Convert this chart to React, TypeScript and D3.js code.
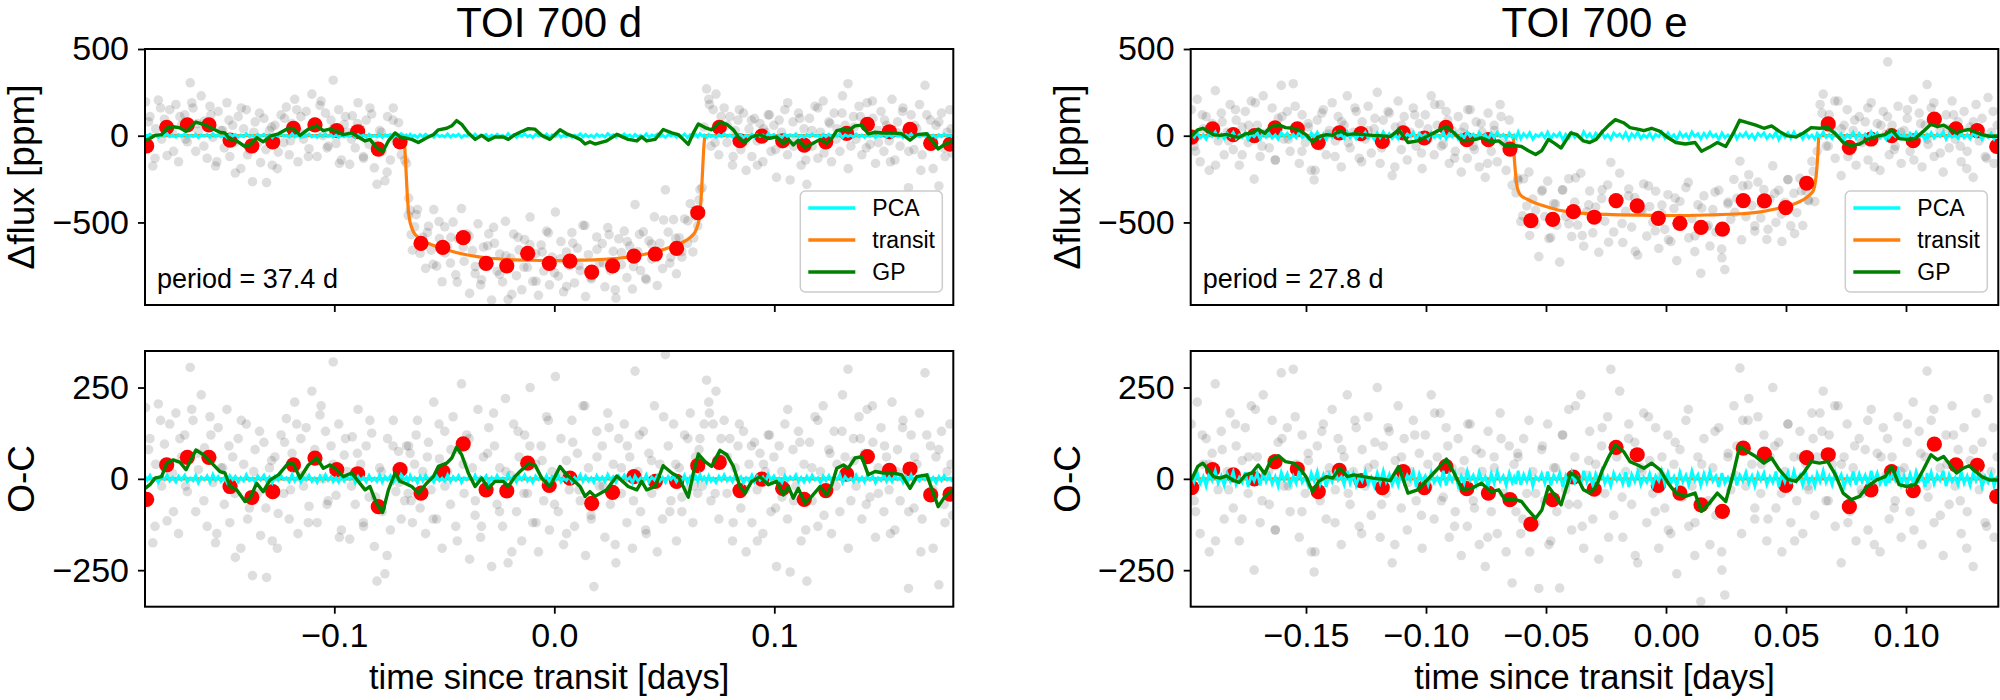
// @ts-nocheck
import { useRef, useEffect } from "react";
import * as d3 from "d3";

// ---------------- TOI 700 d ----------------
const dTime = [
  -0.1858,-0.1850,-0.1838,-0.1825,-0.1812,-0.1800,-0.1785,-0.1772,-0.1760,-0.1748,
  -0.1735,-0.1720,-0.1708,-0.1695,-0.1680,-0.1668,-0.1655,-0.1642,-0.1630,-0.1618,
  -0.1605,-0.1590,-0.1578,-0.1565,-0.1552,-0.1540,-0.1528,-0.1515,-0.1500,-0.1488,
  -0.1475,-0.1462,-0.1450,-0.1437,-0.1425,-0.1412,-0.1400,-0.1386,-0.1372,-0.1360,
  -0.1348,-0.1335,-0.1320,-0.1308,-0.1295,-0.1282,-0.1270,-0.1255,-0.1242,-0.1230,
  -0.1218,-0.1205,-0.1192,-0.1180,-0.1165,-0.1152,-0.1140,-0.1128,-0.1115,-0.1102,
  -0.1090,-0.1078,-0.1065,-0.1052,-0.1040,-0.1028,-0.1015,-0.1005,-0.0992,-0.0980,
  -0.0968,-0.0955,-0.0942,-0.0930,-0.0918,-0.0905,-0.0892,-0.0880,-0.0868,-0.0855,
  -0.0842,-0.0830,-0.0818,-0.0806,-0.0794,-0.0782,-0.0770,-0.0758,-0.0745,-0.0732,
  -0.0720,-0.0708,-0.0696,-0.0680,-0.0672,-0.0664,-0.0655,-0.0645,-0.0635,-0.0622,
  -0.0610,-0.0598,-0.0585,-0.0572,-0.0560,-0.0548,-0.0535,-0.0522,-0.0510,-0.0498,
  -0.0485,-0.0472,-0.0460,-0.0448,-0.0435,-0.0422,-0.0410,-0.0398,-0.0385,-0.0372,
  -0.0360,-0.0347,-0.0335,-0.0322,-0.0310,-0.0298,-0.0285,-0.0272,-0.0260,-0.0248,
  -0.0235,-0.0222,-0.0210,-0.0198,-0.0185,-0.0172,-0.0160,-0.0148,-0.0135,-0.0122,
  -0.0110,-0.0098,-0.0085,-0.0072,-0.0060,-0.0048,-0.0035,-0.0022,-0.0010,0.0005,
  0.0018,0.0030,0.0042,0.0055,0.0068,0.0080,0.0092,0.0105,0.0118,0.0130,
  0.0142,0.0155,0.0168,0.0180,0.0193,0.0205,0.0218,0.0230,0.0243,0.0255,
  0.0268,0.0280,0.0293,0.0305,0.0318,0.0330,0.0343,0.0355,0.0367,0.0380,
  0.0392,0.0405,0.0418,0.0430,0.0443,0.0455,0.0468,0.0480,0.0492,0.0505,
  0.0518,0.0530,0.0542,0.0555,0.0568,0.0580,0.0592,0.0605,0.0618,0.0630,
  0.0642,0.0652,0.0662,0.0672,0.0681,0.0692,0.0702,0.0712,0.0722,0.0735,
  0.0748,0.0760,0.0772,0.0785,0.0798,0.0810,0.0822,0.0835,0.0848,0.0860,
  0.0872,0.0885,0.0898,0.0910,0.0922,0.0935,0.0948,0.0960,0.0972,0.0985,
  0.0998,0.1010,0.1022,0.1035,0.1048,0.1060,0.1072,0.1085,0.1098,0.1110,
  0.1122,0.1135,0.1148,0.1160,0.1172,0.1185,0.1198,0.1210,0.1222,0.1235,
  0.1248,0.1260,0.1272,0.1285,0.1298,0.1310,0.1322,0.1335,0.1348,0.1360,
  0.1372,0.1385,0.1398,0.1410,0.1422,0.1435,0.1448,0.1460,0.1472,0.1485,
  0.1498,0.1510,0.1522,0.1535,0.1548,0.1560,0.1572,0.1585,0.1598,0.1610,
  0.1622,0.1635,0.1648,0.1660,0.1672,0.1685,0.1698,0.1710,0.1722,0.1735,
  0.1748,0.1760,0.1772,0.1785,0.1798,0.1810,
];
const dFlux = [
  195,-60,110,-175,40,205,-20,95,-115,150,
  15,180,-150,60,120,-35,305,160,-90,25,
  230,85,-130,170,-10,-175,140,30,-70,190,
  -120,60,-215,110,-190,40,150,-80,-265,80,
  -40,-155,100,-270,30,-170,60,-95,120,-40,
  165,-110,70,210,-150,110,-20,140,-75,240,
  50,-120,175,0,130,-60,90,320,-45,150,
  -140,65,20,-165,115,-70,190,40,-120,90,
  -50,125,-185,-280,30,-90,-260,110,-140,160,
  -35,75,-110,-140,-160,-460,-430,-660,-525,-425,
  -678,-585,-765,-522,-660,-426,-752,-593,-842,-525,
  -640,-734,-498,-802,-596,-420,-724,-566,-909,-662,
  -795,-508,-860,-642,-725,-566,-948,-620,-781,-682,
  -843,-494,-945,-706,-567,-807,-658,-888,-599,-759,
  -469,-840,-680,-920,-630,-780,-550,-860,-700,-440,
  -810,-610,-900,-670,-749,-559,-849,-648,-778,-517,
  -927,-686,-826,-1010,-584,-733,-622,-871,-530,-778,
  -667,-936,-594,-743,-550,-818,-636,-884,-397,-669,
  -777,-554,-830,-606,-712,-468,-864,-620,-766,-312,
  -556,-700,-484,-796,-588,-700,-480,-620,-392,-670,
  -465,-520,-310,-300,50,270,210,-60,150,240,
  -110,60,160,-40,110,-170,30,90,-80,130,
  -200,40,-120,100,-30,70,-150,20,120,-90,
  60,-240,90,-50,150,-110,-255,80,-20,130,
  -170,40,-280,100,-60,170,-130,20,200,-40,
  80,-150,130,40,-90,230,60,300,-60,110,
  -20,170,-110,70,190,-50,100,-160,30,140,
  -90,60,-30,210,-140,80,-60,160,20,-300,
  120,-80,40,180,-110,290,-40,90,-190,60,
  -290,130,-70,20,150,-100,
];
const dResid = [
  195,-60,110,-175,40,205,-20,95,-115,150,
  15,180,-150,60,120,-35,305,160,-90,25,
  230,85,-130,170,-10,-175,140,30,-70,190,
  -120,60,-215,110,-190,40,150,-80,-265,80,
  -40,-155,100,-270,30,-170,60,-95,120,-40,
  165,-110,70,210,-150,110,-20,140,-75,240,
  50,-120,175,0,130,-60,90,320,-45,150,
  -140,65,20,-165,115,-70,190,40,-120,90,
  -50,125,-185,-280,30,-90,-260,110,-140,160,
  -35,75,-110,-60,90,-40,70,-120,40,160,
  -80,20,-150,100,-30,210,-110,55,-190,130,
  20,-70,170,-130,80,260,-40,120,-220,30,
  -100,190,-160,60,-20,140,-240,90,-70,30,
  -130,220,-230,10,150,-90,60,-170,120,-40,
  250,-120,40,-200,90,-60,170,-140,20,280,
  -90,110,-180,50,-30,160,-130,70,-60,200,
  -210,30,-110,-295,130,-20,90,-160,180,-70,
  40,-230,110,-40,150,-120,60,-190,295,20,
  -90,130,-150,70,-40,200,-200,40,-110,340,
  90,-60,150,-170,30,-90,120,-30,180,-120,
  60,-40,110,-20,150,270,210,-60,150,240,
  -110,60,160,-40,110,-170,30,90,-80,130,
  -200,40,-120,100,-30,70,-150,20,120,-90,
  60,-240,90,-50,150,-110,-255,80,-20,130,
  -170,40,-280,100,-60,170,-130,20,200,-40,
  80,-150,130,40,-90,230,60,300,-60,110,
  -20,170,-110,70,190,-50,100,-160,30,140,
  -90,60,-30,210,-140,80,-60,160,20,-300,
  120,-80,40,180,-110,290,-40,90,-190,60,
  -290,130,-70,20,150,-100,
];
const dPca = [
  6,-4,9,-7,3,-10,8,-2,11,-6,4,-9,7,-3,10,-8,2,-5,9,-11,
  5,-3,8,-9,12,-4,6,-7,3,-10,9,-2,7,-8,4,-6,11,-5,2,-9,
  8,-3,10,-7,5,-11,6,-4,9,-2,3,-8,12,-6,7,-9,4,-3,10,-7,
  2,-10,8,-5,11,-4,6,-8,3,-9,9,-6,5,-2,10,-11,7,-3,4,-8,
  9,-5,2,-7,11,-9,6,-3,8,-10,4,-6,12,-2,5,-8,9,-4,3,-11,
  7,-6,10,-3,4,-9,8,-5,2,-7,11,-8,6,-4,9,-10,3,-2,7,-6,
  10,-9,5,-3,8,-11,4,-7,9,-5,2,-8,12,-4,6,-9,7,-3,11,-6,
  3,-10,8,-2,5,-7,9,-11,6,-4,10,-8,2,-5,7,-9,4,-3,11,-7,
  8,-6,3,-10,9,-4,5,-8,12,-2,6,-9,7,-5,10,-3,4,-11,8,-6,
  2,-7,11,-9,5,-3,9,-6,4,-10,7,-2,8,-8,3,-5,10,-11,6,-4,
  9,-7,12,-3,5,-9,8,-6,2,-10,7,-4,11,-5,4,-8,9,-2,6,-11,
  3,-6,10,-8,7,-4,5,-9,12,-3,8,-7,2,-10,9,-5,6,-2,11,-8,
  4,-9,7,-6,10,-3,3,-11,8,-5,9,-7,5,-2,11,-10,6,-4,2,-8,
  10,-6,4,-9,8,-3,7,-11,3,-5,12,-7,6,-8,9,-2,5,-10,7,-4,
  11,-9,3,-6,8,-2,10,-7,4,-11,6,-5,9,-3,2,-8,
];
// second sector of raw points (no PCA drawn for these)
const dTime2 = [
  -0.1844,-0.1815,-0.1790,-0.1762,-0.1731,-0.1702,-0.1676,-0.1648,-0.1622,-0.1593,
  -0.1561,-0.1534,-0.1507,-0.1479,-0.1452,-0.1423,-0.1394,-0.1366,-0.1340,-0.1311,
  -0.1285,-0.1259,-0.1226,-0.1199,-0.1171,-0.1144,-0.1118,-0.1089,-0.1060,-0.1033,
  -0.1006,-0.0977,-0.0949,-0.0922,-0.0895,-0.0867,-0.0838,-0.0812,-0.0786,-0.0760,
  -0.0733,-0.0706,
  -0.0662,-0.0651,-0.0628,-0.0603,-0.0577,-0.0551,-0.0524,-0.0497,-0.0470,-0.0441,
  -0.0414,-0.0387,-0.0359,-0.0331,-0.0303,-0.0276,-0.0249,-0.0220,-0.0193,-0.0165,
  -0.0138,-0.0111,-0.0083,-0.0055,-0.0027,0.0001,0.0028,0.0056,0.0084,0.0112,
  0.0139,0.0167,0.0194,0.0222,0.0249,0.0277,0.0305,0.0332,0.0360,0.0387,
  0.0415,0.0442,0.0470,0.0497,0.0525,0.0552,0.0580,0.0607,0.0634,0.0658,
  0.0705,0.0731,0.0758,0.0786,0.0813,0.0841,0.0868,0.0896,0.0923,0.0951,
  0.0978,0.1006,0.1033,0.1061,0.1088,0.1116,0.1143,0.1171,0.1198,0.1226,
  0.1253,0.1281,0.1308,0.1336,0.1363,0.1391,0.1418,0.1446,0.1473,0.1501,
  0.1528,0.1556,0.1583,0.1611,0.1638,0.1666,0.1693,0.1721,0.1748,0.1776,
  0.1803,
];
const dFlux2 = [
  80,-130,160,40,-90,110,-20,190,70,-60,
  120,-150,30,90,-40,160,-110,20,130,-80,
  50,-190,100,-30,150,10,-120,80,200,-70,
  40,-160,110,-20,70,-130,160,-50,20,-210,
  90,-10,
  -360,-570,-455,-631,-558,-742,-495,-676,-586,-844,
  -642,-579,-755,-830,-634,-528,-800,-693,-915,-586,
  -758,-628,-839,-670,-560,-790,-710,-869,-619,-748,
  -518,-816,-655,-733,-570,-888,-674,-610,-755,-569,
  -822,-624,-676,-486,-735,-592,-668,-491,-590,-370,
  180,-40,110,60,-120,150,-30,90,-170,40,
  120,-80,20,190,-60,100,-140,30,160,-100,
  70,-20,130,-190,50,110,-70,200,-40,90,
  -150,20,140,-90,60,-200,120,-30,80,-120,
  40,
];
const dResid2 = [
  80,-130,160,40,-90,110,-20,190,70,-60,
  120,-150,30,90,-40,160,-110,20,130,-80,
  50,-190,100,-30,150,10,-120,80,200,-70,
  40,-160,110,-20,70,-130,160,-50,20,-210,
  90,-10,
  90,-60,120,-30,60,-110,150,-20,80,-170,
  40,110,-60,-130,70,180,-90,20,-200,130,
  -40,90,-120,50,160,-70,10,-150,100,-30,
  200,-100,60,-20,140,-180,30,90,-60,120,
  -140,50,-10,170,-90,40,-50,110,-20,80,
  180,-40,110,60,-120,150,-30,90,-170,40,
  120,-80,20,190,-60,100,-140,30,160,-100,
  70,-20,130,-190,50,110,-70,200,-40,90,
  -150,20,140,-90,60,-200,120,-30,80,-120,
  40,
];
const dBinTime = [
  -0.1853,-0.1762,-0.1668,-0.1570,-0.1474,-0.1375,-0.1280,-0.1186,-0.1088,-0.0989,
  -0.0894,-0.0800,-0.0701,-0.0606,-0.0507,-0.0414,-0.0310,-0.0216,-0.0121,-0.0023,
  0.0071,0.0170,0.0265,0.0362,0.0459,0.0556,0.0652,0.0750,0.0844,0.0943,
  0.1038,0.1136,0.1234,0.1329,0.1423,0.1523,0.1617,0.1711,0.1799,
];
const dBinFlux = [
  -59,48,62,62,-25,-59,-35,43,62,29,
  23,-77,-35,-621,-644,-588,-736,-750,-678,-736,
  -723,-786,-750,-694,-682,-650,-444,48,-29,-2,
  -29,-54,-35,14,66,23,37,-44,-48,
];
const dBinResid = [
  -56,38,59,59,-21,-51,-35,38,57,25,
  14,-76,25,-39,20,96,-30,-33,43,-18,
  2,-67,-37,6,-7,-7,36,45,-32,-1,
  -26,-56,-32,13,61,23,27,-44,-42,
];
const dTransitTime = [
  -0.1861,-0.0686,-0.0680,-0.0676,-0.0670,-0.0664,-0.0657,-0.0648,-0.0640,-0.0620,
  -0.0600,-0.0550,-0.0500,-0.0450,-0.0400,-0.0350,-0.0300,-0.0200,-0.0100,0.0000,
  0.0100,0.0200,0.0300,0.0350,0.0400,0.0450,0.0500,0.0550,0.0600,0.0620,
  0.0640,0.0648,0.0657,0.0664,0.0670,0.0676,0.0680,0.0686,0.1814,
];
const dTransit = [
  0,0,-60,-150,-300,-420,-490,-530,-555,-585,
  -603,-632,-655,-672,-686,-697,-705,-714,-718,-720,
  -718,-714,-705,-697,-686,-672,-655,-632,-603,-585,
  -555,-530,-490,-420,-300,-150,-60,0,0,
];
const dGpTime = [
  -0.1860,-0.1838,-0.1815,-0.1785,-0.1762,-0.1732,-0.1701,-0.1674,-0.1629,-0.1595,
  -0.1557,-0.1520,-0.1497,-0.1474,-0.1444,-0.1406,-0.1383,-0.1353,-0.1323,-0.1292,
  -0.1254,-0.1209,-0.1186,-0.1156,-0.1118,-0.1080,-0.1050,-0.1020,-0.0989,-0.0959,
  -0.0921,-0.0891,-0.0860,-0.0838,-0.0808,-0.0780,-0.0754,-0.0724,-0.0701,-0.0679,
  -0.0648,-0.0618,-0.0580,-0.0550,-0.0527,-0.0489,-0.0466,-0.0444,-0.0421,-0.0391,
  -0.0360,-0.0330,-0.0300,-0.0270,-0.0232,-0.0209,-0.0179,-0.0156,-0.0118,-0.0088,
  -0.0057,-0.0020,0.0026,0.0056,0.0086,0.0117,0.0140,0.0162,0.0185,0.0238,
  0.0284,0.0336,0.0375,0.0397,0.0420,0.0458,0.0495,0.0534,0.0564,0.0586,
  0.0609,0.0632,0.0655,0.0685,0.0715,0.0753,0.0784,0.0814,0.0844,0.0867,
  0.0897,0.0935,0.0973,0.1011,0.1041,0.1064,0.1086,0.1109,0.1140,0.1170,
  0.1208,0.1238,0.1261,0.1284,0.1314,0.1336,0.1367,0.1397,0.1427,0.1458,
  0.1495,0.1541,0.1579,0.1617,0.1647,0.1693,0.1745,0.1776,0.1814,
];
const dGp = [
  -26,-16,2,6,43,52,45,25,79,66,
  43,20,16,-21,-30,-62,-53,-12,-35,-3,
  11,43,41,2,38,57,29,38,25,6,
  16,-7,-30,-21,-67,-92,-30,16,-7,-12,
  -21,-39,-12,6,34,43,57,87,66,16,
  -21,2,-26,-7,-7,-21,6,20,41,38,
  2,-21,34,11,-3,-21,-48,-35,-48,-30,
  8,-21,-30,-7,-30,-21,36,16,6,-21,
  -50,16,68,47,34,78,66,34,-21,-39,
  -7,6,-16,-7,-44,-21,-53,-26,-67,-48,
  -21,-44,-16,29,38,29,57,61,11,20,
  16,16,11,-26,6,11,-76,-48,-30,
];

// ---------------- TOI 700 e ----------------
const eTime = [
  -0.1978,-0.1966,-0.1953,-0.1941,-0.1928,-0.1916,-0.1903,-0.1891,-0.1878,-0.1866,
  -0.1853,-0.1841,-0.1828,-0.1816,-0.1803,-0.1791,-0.1778,-0.1766,-0.1753,-0.1741,
  -0.1728,-0.1716,-0.1703,-0.1691,-0.1678,-0.1666,-0.1653,-0.1641,-0.1628,-0.1616,
  -0.1603,-0.1591,-0.1578,-0.1566,-0.1553,-0.1541,-0.1528,-0.1516,-0.1503,-0.1491,
  -0.1478,-0.1466,-0.1453,-0.1441,-0.1428,-0.1416,-0.1403,-0.1391,-0.1378,-0.1366,
  -0.1353,-0.1341,-0.1328,-0.1316,-0.1303,-0.1291,-0.1278,-0.1266,-0.1253,-0.1241,
  -0.1228,-0.1216,-0.1203,-0.1191,-0.1178,-0.1166,-0.1153,-0.1141,-0.1128,-0.1116,
  -0.1103,-0.1091,-0.1078,-0.1066,-0.1053,-0.1041,-0.1028,-0.1016,-0.1003,-0.0991,
  -0.0978,-0.0966,-0.0953,-0.0941,-0.0928,-0.0916,-0.0903,-0.0891,-0.0878,-0.0866,
  -0.0853,-0.0841,-0.0828,-0.0816,-0.0803,-0.0791,-0.0778,-0.0766,-0.0753,-0.0741,
  -0.0728,-0.0716,-0.0703,-0.0691,-0.0678,-0.0666,-0.0653,-0.0641,-0.0633,-0.0625,
  -0.0616,-0.0605,-0.0593,-0.0580,-0.0568,-0.0555,-0.0543,-0.0530,-0.0518,-0.0505,
  -0.0493,-0.0480,-0.0468,-0.0455,-0.0443,-0.0430,-0.0418,-0.0405,-0.0393,-0.0380,
  -0.0368,-0.0355,-0.0343,-0.0330,-0.0318,-0.0305,-0.0293,-0.0280,-0.0268,-0.0255,
  -0.0243,-0.0230,-0.0218,-0.0205,-0.0193,-0.0180,-0.0168,-0.0155,-0.0143,-0.0130,
  -0.0118,-0.0105,-0.0093,-0.0080,-0.0068,-0.0055,-0.0043,-0.0030,-0.0018,-0.0005,
  0.0008,0.0020,0.0033,0.0045,0.0058,0.0070,0.0083,0.0095,0.0108,0.0120,
  0.0133,0.0145,0.0158,0.0170,0.0183,0.0195,0.0208,0.0220,0.0233,0.0245,
  0.0258,0.0270,0.0283,0.0295,0.0308,0.0320,0.0333,0.0345,0.0358,0.0370,
  0.0383,0.0395,0.0408,0.0420,0.0433,0.0445,0.0458,0.0470,0.0483,0.0495,
  0.0508,0.0520,0.0533,0.0545,0.0558,0.0570,0.0583,0.0595,0.0608,0.0620,
  0.0630,0.0642,0.0655,0.0667,0.0680,0.0692,0.0705,0.0717,0.0730,0.0742,
  0.0755,0.0767,0.0780,0.0792,0.0805,0.0817,0.0830,0.0842,0.0855,0.0867,
  0.0880,0.0892,0.0905,0.0917,0.0924,0.0930,0.0942,0.0955,0.0967,0.0980,
  0.0992,0.1005,0.1017,0.1030,0.1042,0.1055,0.1067,0.1080,0.1088,0.1092,
  0.1105,0.1117,0.1130,0.1142,0.1155,0.1167,0.1180,0.1192,0.1205,0.1217,
  0.1230,0.1242,0.1255,0.1267,0.1280,0.1292,0.1305,0.1317,0.1330,0.1342,
  0.1355,0.1367,0.1380,
];
const eFlux = [
  150,-60,210,-150,40,110,-200,70,260,-30,
  130,-110,20,180,-80,90,-170,50,140,-40,
  200,-250,60,-120,230,10,-70,160,-140,100,
  290,-20,140,-90,300,40,-160,120,-40,70,
  -200,-255,90,-60,150,-110,30,190,-30,110,
  -180,60,230,-70,20,140,-130,80,-20,170,
  -100,40,250,-160,90,-40,130,-230,50,200,
  -80,110,-140,20,160,-60,70,-190,120,-20,
  230,-110,60,180,-50,140,-160,30,-90,110,
  -210,50,-130,150,-60,80,-180,20,-240,130,
  -90,60,-150,180,-40,-200,90,-285,-60,-330,
  -258,-495,-248,-405,-575,-365,-512,-697,-321,-466,
  -262,-587,-392,-517,-729,-313,-466,-248,-581,-383,
  -515,-216,-637,-438,-319,-560,-411,-672,-362,-493,
  -284,-154,-555,-395,-216,-616,-436,-307,-527,-357,
  -688,-428,-278,-579,-409,-499,-320,-650,-450,-540,
  -340,-610,-420,-720,-379,-509,-299,-589,-478,-668,
  -398,-793,-347,-527,-636,-426,-555,-315,-704,-772,
  -393,-482,-252,-361,-147,-289,-467,-225,-403,-550,
  -267,-474,-311,-598,-366,-174,-500,-314,-610,-385,
  -252,-520,-332,-444,-246,-518,-318,-375,-148,-380,
  -90,180,240,-60,120,40,-130,200,-230,60,
  150,-90,30,-170,110,-40,80,-140,190,-20,
  70,-200,140,10,426,-110,60,-60,170,-160,
  30,100,-90,210,-30,130,-180,60,295,-50,
  160,-120,90,30,-210,120,-70,200,-20,80,
  -150,140,-90,50,-240,180,-30,100,-120,220,
  20,-160,60,
];
const eResid = [
  150,-60,210,-150,40,110,-200,70,260,-30,
  130,-110,20,180,-80,90,-170,50,140,-40,
  200,-250,60,-120,230,10,-70,160,-140,100,
  290,-20,140,-90,300,40,-160,120,-40,70,
  -200,-255,90,-60,150,-110,30,190,-30,110,
  -180,60,230,-70,20,140,-130,80,-20,170,
  -100,40,250,-160,90,-40,130,-230,50,200,
  -80,110,-140,20,160,-60,70,-190,120,-20,
  230,-110,60,180,-50,140,-160,30,-90,110,
  -210,50,-130,150,-60,80,-180,20,-240,130,
  -90,60,-150,180,-40,-200,90,-285,40,-90,
  60,-150,110,-40,-200,20,-120,-300,80,-60,
  150,-170,30,-90,-299,120,-30,190,-140,60,
  -70,230,-190,10,130,-110,40,-220,90,-40,
  170,300,-100,60,240,-160,20,150,-70,100,
  -230,30,180,-120,50,-40,140,-190,10,-80,
  120,-150,40,-260,80,-50,160,-130,-20,-210,
  60,-336,110,-70,-180,30,-100,140,-250,-318,
  60,-30,200,90,303,160,-20,220,40,-110,
  170,-40,120,-170,60,250,-80,100,-200,20,
  150,-120,60,-60,130,-150,40,-30,180,-100,
  60,180,240,-60,120,40,-130,200,-230,60,
  150,-90,30,-170,110,-40,80,-140,190,-20,
  70,-200,140,10,426,-110,60,-60,170,-160,
  30,100,-90,210,-30,130,-180,60,295,-50,
  160,-120,90,30,-210,120,-70,200,-20,80,
  -150,140,-90,50,-240,180,-30,100,-120,220,
  20,-160,60,
];
const ePca = [
  12,-8,18,-14,6,-20,16,-4,22,-12,8,-18,14,-6,20,-16,4,-10,18,-22,
  10,-6,16,-18,22,-8,12,-14,6,-20,18,-4,14,-16,8,-12,22,-10,4,-18,
  16,-6,20,-14,10,-22,12,-8,18,-4,6,-16,22,-12,14,-18,8,-6,20,-14,
  4,-20,16,-10,22,-8,12,-16,6,-18,18,-12,10,-4,20,-22,14,-6,8,-16,
  18,-10,4,-14,22,-18,12,-6,16,-20,8,-12,22,-4,10,-16,18,-8,6,-22,
  14,-12,20,-6,8,-18,16,-10,4,-14,22,-16,12,-8,18,-20,6,-4,14,-12,
  20,-18,10,-6,16,-22,8,-14,18,-10,4,-16,22,-8,12,-18,14,-6,22,-12,
  6,-20,16,-4,10,-14,18,-22,12,-8,20,-16,4,-10,14,-18,8,-6,22,-14,
  16,-12,6,-20,18,-8,10,-16,22,-4,12,-18,14,-10,20,-6,8,-22,16,-12,
  4,-14,22,-18,10,-6,18,-12,8,-20,14,-4,16,-16,6,-10,20,-22,12,-8,
  18,-14,22,-6,10,-18,16,-12,4,-20,14,-8,22,-10,8,-16,18,-4,12,-22,
  6,-12,20,-16,14,-8,10,-18,22,-6,16,-14,4,-20,18,-10,12,-4,22,-16,
  8,-18,14,-12,20,-6,6,-22,16,-10,18,-14,10,-4,22,-20,12,-8,4,-16,
  20,-12,8,-18,16,-6,14,-22,6,-10,14,-20,8,
];
const eTime2 = [
  -0.1960,-0.1932,-0.1905,-0.1877,-0.1849,-0.1822,-0.1794,-0.1766,-0.1739,-0.1711,
  -0.1683,-0.1656,-0.1628,-0.1600,-0.1573,-0.1545,-0.1517,-0.1490,-0.1462,-0.1434,
  -0.1407,-0.1379,-0.1351,-0.1324,-0.1296,-0.1268,-0.1241,-0.1213,-0.1185,-0.1158,
  -0.1130,-0.1102,-0.1075,-0.1047,-0.1019,-0.0992,-0.0964,-0.0936,-0.0909,-0.0881,
  -0.0853,-0.0826,-0.0798,-0.0770,-0.0743,-0.0715,-0.0687,-0.0660,
  -0.0618,-0.0597,-0.0571,-0.0543,-0.0515,-0.0488,-0.0460,-0.0432,-0.0405,-0.0377,
  -0.0349,-0.0322,-0.0294,-0.0266,-0.0239,-0.0211,-0.0183,-0.0156,-0.0128,-0.0100,
  -0.0073,-0.0045,-0.0017,0.0010,0.0038,0.0066,0.0093,0.0121,0.0149,0.0176,
  0.0204,0.0232,0.0259,0.0287,0.0315,0.0342,0.0370,0.0398,0.0425,0.0453,
  0.0481,0.0508,0.0536,0.0564,0.0591,0.0613,
  0.0650,0.0676,0.0703,0.0731,0.0758,0.0786,0.0813,0.0841,0.0868,0.0896,
  0.0923,0.0951,0.0978,0.1006,0.1033,0.1061,0.1088,0.1116,0.1143,0.1171,
  0.1198,0.1226,0.1253,0.1281,0.1308,0.1336,0.1363,
];
const eFlux2 = [
  -90,120,40,-170,80,-30,150,-110,60,190,
  -60,20,-140,110,-20,170,-90,50,-200,130,
  10,-120,80,-40,160,-150,30,100,-70,140,
  -180,60,-10,120,-100,40,180,-60,90,-130,
  20,150,-80,70,-160,30,110,-50,
  -245,-462,-210,-430,-313,-593,-394,-312,-508,-243,
  -576,-399,-471,-312,-614,-375,-506,-347,-667,-438,
  -289,-549,-400,-600,-360,-489,-269,-578,-417,-517,
  -325,-654,-383,-442,-600,-285,-520,-395,-540,-332,
  -452,-254,-565,-318,-370,-205,
  130,-60,200,40,-120,90,-30,160,-180,60,
  110,-80,20,150,-140,70,-20,190,-100,40,
  120,-60,-190,80,10,-130,140,
];
const eResid2 = [
  -90,120,40,-170,80,-30,150,-110,60,190,
  -60,20,-140,110,-20,170,-90,50,-200,130,
  10,-120,80,-40,160,-150,30,100,-70,140,
  -180,60,-10,120,-100,40,180,-60,90,-130,
  20,150,-80,70,-160,30,110,-50,
  70,-110,160,-40,90,-180,30,120,-70,200,
  -130,50,-20,140,-160,80,-50,110,-210,20,
  170,-90,60,-140,100,-30,190,-120,40,-60,
  130,-200,70,10,-150,160,-80,40,-110,90,
  -40,150,-170,60,-20,110,
  130,-60,200,40,-120,90,-30,160,-180,60,
  110,-80,20,150,-140,70,-20,190,-100,40,
  120,-60,-190,80,10,-130,140,
];
const eBinTime = [
  -0.1976,-0.1889,-0.1803,-0.1715,-0.1629,-0.1536,-0.1449,-0.1361,-0.1271,-0.1182,
  -0.1095,-0.1007,-0.0917,-0.0830,-0.0740,-0.0650,-0.0563,-0.0472,-0.0386,-0.0299,
  -0.0208,-0.0120,-0.0032,0.0058,0.0146,0.0235,0.0322,0.0410,0.0499,0.0586,
  0.0676,0.0764,0.0854,0.0940,0.1030,0.1118,0.1208,0.1297,0.1378,
];
const eBinFlux = [
  -8,39,6,0,45,39,-39,16,12,-33,
  16,-13,48,-23,-23,-77,-490,-482,-438,-470,
  -374,-405,-476,-505,-528,-539,-374,-376,-414,-274,
  68,-67,-19,0,-29,96,40,29,-62,
];
const eBinResid = [
  -24,25,11,0,47,27,-35,23,-5,-24,
  20,-24,34,-27,-39,-57,-124,-57,5,-28,
  86,66,-18,-39,-71,-89,84,68,-18,58,
  66,-76,-30,20,-32,95,38,37,-48,
];
const eTransitTime = [
  -0.1980,-0.0637,-0.0633,-0.0628,-0.0622,-0.0615,-0.0600,-0.0580,-0.0550,-0.0520,
  -0.0450,-0.0380,-0.0250,-0.0100,0.0030,0.0170,0.0310,0.0400,0.0450,0.0520,
  0.0560,0.0580,0.0600,0.0615,0.0622,0.0628,0.0633,0.0637,0.1385,
];
const eTransit = [
  0,0,-110,-200,-280,-322,-350,-365,-385,-400,
  -428,-443,-453,-458,-460,-457,-450,-438,-424,-400,
  -378,-362,-340,-312,-270,-197,-100,0,0,
];
const eGpTime = [
  -0.1978,-0.1951,-0.1930,-0.1912,-0.1885,-0.1858,-0.1832,-0.1805,-0.1779,-0.1752,
  -0.1726,-0.1699,-0.1672,-0.1646,-0.1614,-0.1585,-0.1553,-0.1526,-0.1500,-0.1473,
  -0.1447,-0.1415,-0.1388,-0.1359,-0.1327,-0.1300,-0.1260,-0.1221,-0.1181,-0.1149,
  -0.1114,-0.1075,-0.1035,-0.0995,-0.0955,-0.0915,-0.0883,-0.0849,-0.0809,-0.0769,
  -0.0729,-0.0697,-0.0671,-0.0628,-0.0602,-0.0575,-0.0543,-0.0517,-0.0490,-0.0464,
  -0.0437,-0.0397,-0.0371,-0.0344,-0.0318,-0.0291,-0.0264,-0.0238,-0.0211,-0.0177,
  -0.0150,-0.0118,-0.0092,-0.0060,-0.0025,0.0009,0.0041,0.0081,0.0121,0.0148,
  0.0180,0.0214,0.0249,0.0281,0.0307,0.0339,0.0374,0.0408,0.0440,0.0472,
  0.0506,0.0541,0.0573,0.0605,0.0639,0.0674,0.0706,0.0738,0.0772,0.0807,
  0.0839,0.0878,0.0913,0.0940,0.0971,0.1003,0.1038,0.1072,0.1104,0.1131,
  0.1157,0.1184,0.1210,0.1237,0.1263,0.1290,0.1316,0.1348,0.1383,
];
const eGp = [
  -3,34,43,29,6,2,8,-3,-10,11,
  16,38,14,52,63,47,43,29,6,-35,
  -7,6,2,29,6,11,6,2,-1,-5,
  34,-39,-30,-3,25,54,16,-30,-26,-12,
  -35,-30,-57,-57,-62,-85,-108,-85,-21,-44,
  -71,16,6,-30,-39,-21,25,61,93,75,
  47,38,29,43,25,-12,-39,-48,-39,-89,
  -67,-39,-62,16,89,75,61,43,57,25,
  -1,-7,16,47,43,47,11,-39,-57,-48,
  -21,-3,6,34,-16,-21,-16,25,66,52,
  61,38,16,29,36,20,6,-3,-3,
];

// ---------------- axes / labels ----------------
const dXlim = [-0.18605, 0.18136];
const eXlim = [-0.19804, 0.13846];
const fluxYlim = [-976, 500];
const ocYlim = [-350, 350];
const fluxTicks = [500, 0, -500];
const fluxTickLabels = ["500", "0", "\u2212500"];
const ocTicks = [250, 0, -250];
const ocTickLabels = ["250", "0", "\u2212250"];
const dTimeTicks = [-0.1, 0, 0.1];
const dTimeTickLabels = ["\u22120.1", "0.0", "0.1"];
const eTimeTicks = [-0.15, -0.1, -0.05, 0, 0.05, 0.1];
const eTimeTickLabels = ["\u22120.15", "\u22120.10", "\u22120.05", "0.00", "0.05", "0.10"];
const legendLabels = ["PCA", "transit", "GP"];
const legendColors = ["#00ffff", "#ff7f0e", "#008000"];

const FONT = '"Liberation Sans", Arial, Helvetica, sans-serif';

function drawPanel(svg, o) {
  const x = d3.scaleLinear().domain(o.xlim).range([o.left, o.right]);
  const y = d3.scaleLinear().domain(o.ylim).range([o.bottom, o.top]);

  svg.append("clipPath").attr("id", o.id).append("rect")
    .attr("x", o.left).attr("y", o.top)
    .attr("width", o.right - o.left).attr("height", o.bottom - o.top);
  const plot = svg.append("g").attr("clip-path", `url(#${o.id})`);

  // raw points, both sectors
  const raw = d3.zip(o.time, o.gray).concat(d3.zip(o.time2, o.gray2));
  plot.append("g").selectAll("circle")
    .data(raw)
    .join("circle")
    .attr("cx", (d) => x(d[0])).attr("cy", (d) => y(d[1]))
    .attr("r", 4.8).attr("fill", "#000").attr("fill-opacity", 0.13);

  const straight = d3.line().x((d) => x(d[0])).y((d) => y(d[1]));
  const smooth = d3.line().x((d) => x(d[0])).y((d) => y(d[1])).curve(d3.curveMonotoneX);

  // transit model
  plot.append("path").datum(d3.zip(o.trTime, o.tr))
    .attr("d", smooth).attr("fill", "none")
    .attr("stroke", "#ff7f0e").attr("stroke-width", 3.2);

  // binned
  plot.append("g").selectAll("circle")
    .data(d3.zip(o.binTime, o.bin))
    .join("circle")
    .attr("cx", (d) => x(d[0])).attr("cy", (d) => y(d[1]))
    .attr("r", 7.6).attr("fill", "#ff0000");

  // PCA
  plot.append("path").datum(d3.zip(o.time, o.pca))
    .attr("d", straight).attr("fill", "none")
    .attr("stroke", "#00ffff").attr("stroke-width", 2.8);

  // GP
  plot.append("path").datum(d3.zip(o.gpTime, o.gp))
    .attr("d", straight).attr("fill", "none")
    .attr("stroke", "#008000").attr("stroke-width", 3.4)
    .attr("stroke-linejoin", "round");

  // axes
  const yAxis = d3.axisLeft(y).tickValues(o.yTicks)
    .tickFormat((d, i) => o.yTickLabels[i]).tickSize(7).tickPadding(9).tickSizeOuter(0);
  const gy = svg.append("g").attr("transform", `translate(${o.left},0)`).call(yAxis);
  gy.select(".domain").remove();

  const xAxis = d3.axisBottom(x).tickValues(o.xTicks)
    .tickFormat((d, i) => (o.showX ? o.xTickLabels[i] : "")).tickSize(7).tickPadding(9).tickSizeOuter(0);
  const gx = svg.append("g").attr("transform", `translate(0,${o.bottom})`).call(xAxis);
  gx.select(".domain").remove();

  [gx, gy].forEach((g) => {
    g.selectAll("line").attr("stroke", "#000").attr("stroke-width", 1.8);
    g.selectAll("text").attr("font-size", 34).attr("font-family", FONT).attr("fill", "#000");
  });

  // frame
  svg.append("rect")
    .attr("x", o.left).attr("y", o.top)
    .attr("width", o.right - o.left).attr("height", o.bottom - o.top)
    .attr("fill", "none").attr("stroke", "#000").attr("stroke-width", 2);

  // y label
  svg.append("text")
    .attr("transform", `translate(${o.left - 111},${(o.top + o.bottom) / 2}) rotate(-90)`)
    .attr("text-anchor", "middle").attr("font-family", FONT).attr("font-size", 37)
    .text(o.yLabel);

  if (o.period) {
    svg.append("text").attr("x", o.left + 12).attr("y", o.bottom - 17)
      .attr("font-family", FONT).attr("font-size", 27).text(o.period);
  }
  if (o.title) {
    svg.append("text").attr("x", (o.left + o.right) / 2).attr("y", 37)
      .attr("text-anchor", "middle").attr("font-family", FONT).attr("font-size", 42)
      .text(o.title);
  }
  if (o.legend) {
    const bx = o.right - 153;
    const by = o.top + 142;
    svg.append("rect").attr("x", bx).attr("y", by).attr("width", 142).attr("height", 101)
      .attr("rx", 5).attr("fill", "#fff").attr("fill-opacity", 0.8)
      .attr("stroke", "#cccccc").attr("stroke-width", 1.5);
    legendLabels.forEach((lab, i) => {
      const cy = by + 17 + i * 32;
      svg.append("line").attr("x1", bx + 8).attr("x2", bx + 55).attr("y1", cy).attr("y2", cy)
        .attr("stroke", legendColors[i]).attr("stroke-width", 3.4);
      svg.append("text").attr("x", bx + 72).attr("y", cy + 8)
        .attr("font-family", FONT).attr("font-size", 23).text(lab);
    });
  }
  if (o.xLabel) {
    svg.append("text").attr("x", (o.left + o.right) / 2).attr("y", 689)
      .attr("text-anchor", "middle").attr("font-family", FONT).attr("font-size", 34.5)
      .text(o.xLabel);
  }
}

export default function App() {
  const ref = useRef(null);

  useEffect(() => {
    const svg = d3.select(ref.current);
    svg.selectAll("*").remove();

    const topRow = { top: 49, bottom: 305, ylim: fluxYlim, yTicks: fluxTicks, yTickLabels: fluxTickLabels, yLabel: "\u0394flux [ppm]", legend: true, showX: false };
    const botRow = { top: 351, bottom: 606.7, ylim: ocYlim, yTicks: ocTicks, yTickLabels: ocTickLabels, yLabel: "O-C", showX: true, xLabel: "time since transit [days]" };
    const colD = { left: 145, right: 953.3, xlim: dXlim, xTicks: dTimeTicks, xTickLabels: dTimeTickLabels, time: dTime, time2: dTime2, pca: dPca, binTime: dBinTime, gpTime: dGpTime, gp: dGp };
    const colE = { left: 1190.7, right: 1998.3, xlim: eXlim, xTicks: eTimeTicks, xTickLabels: eTimeTickLabels, time: eTime, time2: eTime2, pca: ePca, binTime: eBinTime, gpTime: eGpTime, gp: eGp };

    drawPanel(svg, { ...topRow, ...colD, id: "clip-d-top", gray: dFlux, gray2: dFlux2, bin: dBinFlux, trTime: dTransitTime, tr: dTransit, title: "TOI 700 d", period: "period = 37.4 d" });
    drawPanel(svg, { ...botRow, ...colD, id: "clip-d-oc", gray: dResid, gray2: dResid2, bin: dBinResid, trTime: dXlim, tr: [0, 0] });
    drawPanel(svg, { ...topRow, ...colE, id: "clip-e-top", gray: eFlux, gray2: eFlux2, bin: eBinFlux, trTime: eTransitTime, tr: eTransit, title: "TOI 700 e", period: "period = 27.8 d" });
    drawPanel(svg, { ...botRow, ...colE, id: "clip-e-oc", gray: eResid, gray2: eResid2, bin: eBinResid, trTime: eXlim, tr: [0, 0] });
  }, []);

  return (
    <svg
      ref={ref}
      width={2000}
      height={700}
      style={{ position: "absolute", left: 0, top: 0, background: "#fff" }}
    />
  );
}
